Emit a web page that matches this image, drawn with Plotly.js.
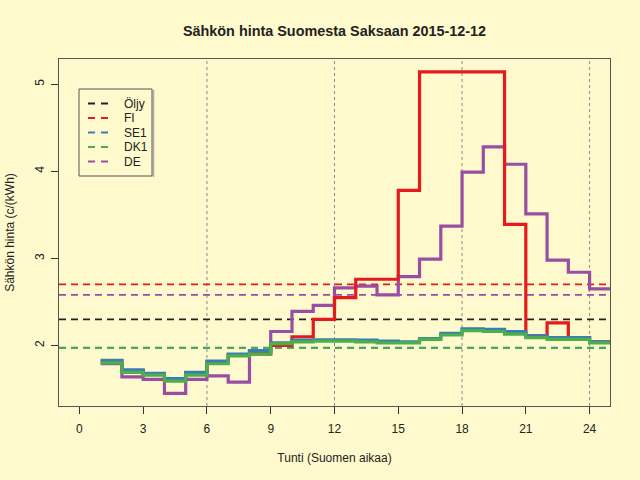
<!DOCTYPE html>
<html><head><meta charset="utf-8">
<script src="https://cdn.plot.ly/plotly-3.0.1.min.js"></script>
<style>body{margin:0;background:#FFFACD}</style>
</head><body><div id="chart" style="width:640px;height:480px"></div>
<script>
// ---- data ----
const hours = [1,2,3,4,5,6,7,8,9,10,11,12,13,14,15,16,17,18,19,20,21,22,23,24];
const fi  = [1.82,1.71,1.67,1.61,1.68,1.81,1.89,1.93,2.00,2.10,2.30,2.55,2.76,2.76,3.78,5.14,5.14,5.14,5.14,3.39,2.11,2.26,2.09,2.04];
const se1 = [1.83,1.72,1.68,1.62,1.69,1.82,1.90,1.94,2.03,2.06,2.065,2.065,2.06,2.05,2.04,2.08,2.14,2.19,2.185,2.16,2.11,2.09,2.09,2.04];
const dk1 = [1.80,1.69,1.66,1.59,1.66,1.79,1.88,1.90,2.02,2.04,2.05,2.05,2.04,2.03,2.03,2.07,2.12,2.17,2.16,2.13,2.09,2.07,2.07,2.03];
const de  = [1.79,1.64,1.61,1.45,1.61,1.65,1.58,1.90,2.16,2.39,2.46,2.66,2.68,2.58,2.79,2.99,3.37,3.99,4.28,4.08,3.51,2.98,2.84,2.65];
const seriesNames = ['Öljy','FI','SE1','DK1','DE'];
const avgValues   = [2.30, 2.70, 1.975, 1.97, 2.58];
const seriesColors = ['#222222','#E41A1C','#377EB8','#4DAF4A','#984EA3'];
const xTicks = [0,3,6,9,12,15,18,21,24];
const yTicks = [2,3,4,5];
const gridHours = [6,12,18,24];
const xRange = [-0.96, 24.96];
const yRange = [1.305, 5.288];

// ---- layout geometry (pixels) ----
const W = 640, H = 480, mL = 59, mR = 30, mT = 59, mB = 74;
const pw = W - mL - mR, ph = H - mT - mB;
const px = x => (x - mL) / pw;
const py = y => (H - mB - y) / ph;
const font = 'Liberation Sans, Arial, Helvetica, sans-serif';

const traces = [];
// average dashed lines (drawn first, below steps)
avgValues.forEach((v, i) => {
  traces.push({x: xRange, y: [v, v], mode: 'lines', type: 'scatter',
    line: {color: seriesColors[i], width: 1.7, dash: '7px,5px'}, hoverinfo: 'skip', showlegend: false});
});
// step lines: order DE, FI, SE1, DK1
function step(vals, color) {
  const xs = hours.concat([hours[hours.length - 1] + 1]);
  const ys = vals.concat([vals[vals.length - 1]]);
  return {x: xs, y: ys, mode: 'lines', type: 'scatter', line: {shape: 'hv', color: color, width: 3.2},
    showlegend: false, cliponaxis: true};
}
traces.push(step(de, seriesColors[4]));
traces.push(step(fi, seriesColors[1]));
traces.push(step(se1, seriesColors[2]));
traces.push(step(dk1, seriesColors[3]));

const shapes = [];
gridHours.forEach(h => shapes.push({type: 'line', xref: 'x', yref: 'paper', x0: h, x1: h, y0: 0, y1: 1,
  line: {color: '#888', width: 1, dash: 'dot'}, layer: 'below'}));
// legend box
shapes.push({type: 'line', xref: 'paper', yref: 'paper', x0: px(153.5), x1: px(153.5), y0: py(177), y1: py(90),
  line: {color: '#aaa', width: 1.5}});
shapes.push({type: 'rect', xref: 'paper', yref: 'paper', x0: px(79), x1: px(152), y0: py(176), y1: py(89),
  line: {color: '#555', width: 1}, fillcolor: 'rgba(0,0,0,0)'});
const annotations = [];
seriesNames.forEach((n, i) => {
  const yy = 103.5 + 14.5 * i;
  shapes.push({type: 'line', xref: 'paper', yref: 'paper', x0: px(88), x1: px(110), y0: py(yy), y1: py(yy),
    line: {color: seriesColors[i], width: 2, dash: '7px,6px'}});
  annotations.push({xref: 'paper', yref: 'paper', x: px(122), y: py(yy), xanchor: 'left', yanchor: 'middle',
    text: n, showarrow: false, font: {family: font, size: 12, color: '#222'}});
});

const layout = {
  width: W, height: H,
  margin: {l: mL, r: mR, t: mT, b: mB, pad: 0},
  paper_bgcolor: '#FFFACD', plot_bgcolor: '#FFFACD',
  font: {family: font, size: 12, color: '#222'},
  title: {text: '<b>Sähkön hinta Suomesta Saksaan 2015-12-12</b>', font: {family: font, size: 14.4, color: '#222'},
    x: 0.5, xref: 'paper', y: 1 - 31 / H, yanchor: 'middle'},
  showlegend: false,
  xaxis: {range: xRange, tickvals: xTicks, ticktext: xTicks.map(String), ticks: 'outside', ticklen: 7,
    tickcolor: '#333', showline: true, linecolor: '#555', linewidth: 1, mirror: true, showgrid: false, zeroline: false,
    ticklabelstandoff: 5,
    tickfont: {size: 12}, title: {text: 'Tunti (Suomen aikaa)', font: {size: 12}, standoff: 18}, automargin: false},
  yaxis: {range: yRange, tickvals: yTicks, ticktext: yTicks.map(String), ticks: 'outside', ticklen: 7, tickangle: -90,
    tickcolor: '#333', showline: true, linecolor: '#555', linewidth: 1, mirror: true, showgrid: false, zeroline: false,
    ticklabelstandoff: 2,
    tickfont: {size: 12}, title: {text: 'Sähkön hinta (c/(kWh)', font: {size: 12}, standoff: 16}, automargin: false},
  shapes: shapes,
  annotations: annotations
};
Plotly.newPlot('chart', traces, layout, {displayModeBar: false, staticPlot: true});
</script></body></html>
